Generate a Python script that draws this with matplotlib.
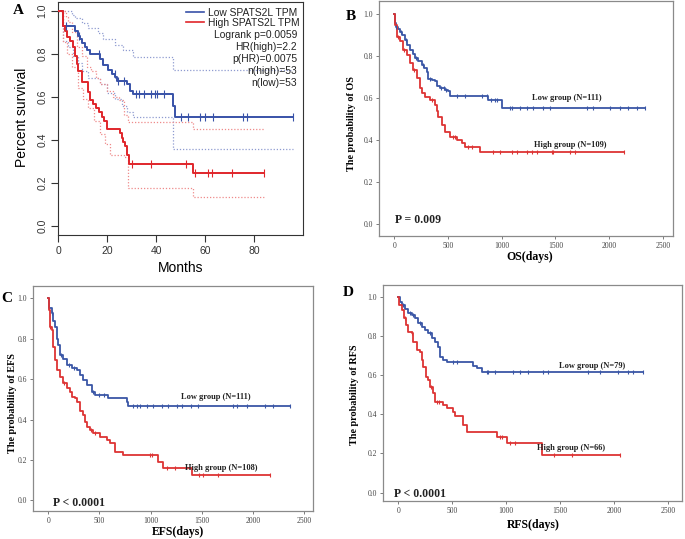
import matplotlib
matplotlib.use('Agg')
import matplotlib.pyplot as plt
import numpy as np

W, H = 685, 539

# ---- Panel A (GEPIA, months) ----
A_low_t = [0, 2, 6.8, 8.2, 8.8, 9.5, 10.9, 11.8, 12.9, 17, 18.4, 20.4, 21.8, 23.1, 23.8, 27.9, 29.2, 30.6, 47, 47.8, 96]
A_low_s = [1.0, 0.93, 0.908, 0.883, 0.868, 0.849, 0.834, 0.818, 0.8, 0.775, 0.748, 0.725, 0.707, 0.691, 0.675, 0.66, 0.63, 0.612, 0.56, 0.508, 0.508]
A_low_c = [3, 8.5, 16.7, 23, 24.6, 27, 31.7, 33, 35, 38, 39.5, 40.2, 43, 50, 53, 58, 60, 63.3, 75.3, 77.3, 96]
A_high_t = [0, 2, 2.7, 3.4, 4.8, 5.9, 6.8, 7.5, 8.2, 9.5, 12, 13, 14, 15.5, 16.5, 17.7, 18.5, 19.7, 25.2, 25.9, 26.5, 27.2, 27.9, 28.8, 55.1, 84]
A_high_s = [1.0, 0.93, 0.905, 0.88, 0.86, 0.83, 0.79, 0.755, 0.72, 0.67, 0.625, 0.585, 0.566, 0.547, 0.528, 0.509, 0.49, 0.453, 0.434, 0.41, 0.39, 0.37, 0.33, 0.29, 0.245, 0.245]
A_high_c = [30, 38, 52, 56, 61, 63, 71, 84]
A_low_hi_t = [0, 5.4, 7, 9.5, 12, 16.3, 18.4, 23, 26.5, 30.6, 47, 96]
A_low_hi_s = [1.0, 0.98, 0.966, 0.943, 0.92, 0.896, 0.87, 0.84, 0.818, 0.784, 0.725, 0.725]
A_low_lo_t = [0, 2, 4, 6, 8, 9.5, 12, 17, 20, 23, 26, 28, 30.6, 47, 96]
A_low_lo_s = [1.0, 0.86, 0.83, 0.79, 0.76, 0.72, 0.69, 0.66, 0.62, 0.59, 0.56, 0.53, 0.505, 0.36, 0.36]
A_high_hi_t = [0, 3, 4, 5.5, 7.5, 9.5, 11.6, 13.5, 15.5, 17, 20, 22.4, 25, 27, 28.5, 55, 84]
A_high_hi_s = [1.0, 0.97, 0.95, 0.9, 0.834, 0.79, 0.74, 0.72, 0.69, 0.66, 0.63, 0.60, 0.585, 0.515, 0.485, 0.45, 0.45]
A_high_lo_t = [0, 2, 3.5, 5.4, 8, 10, 12, 14.5, 17, 19, 21, 27, 28.5, 55, 84]
A_high_lo_s = [1.0, 0.857, 0.8, 0.74, 0.64, 0.59, 0.547, 0.49, 0.43, 0.38, 0.33, 0.32, 0.177, 0.135, 0.135]
A_stats = ['Logrank p=0.0059', 'HR(high)=2.2', 'p(HR)=0.0075', 'n(high)=53', 'n(low)=53']

# ---- Panel B (OS, days) ----
B_low_t = [0, 5, 15, 30, 53, 75, 100, 120, 146, 170, 193, 220, 255, 280, 300, 317, 350, 380, 395, 425, 470, 503, 520, 870, 1000, 2336]
B_low_s = [1.0, 0.96, 0.94, 0.93, 0.917, 0.90, 0.877, 0.855, 0.83, 0.81, 0.79, 0.775, 0.758, 0.745, 0.727, 0.69, 0.685, 0.68, 0.66, 0.647, 0.64, 0.635, 0.612, 0.59, 0.555, 0.555]
B_low_c = [20, 60, 110, 200, 270, 330, 430, 460, 480, 580, 660, 820, 860, 900, 940, 960, 1078, 1093, 1171, 1233, 1295, 1388, 1450, 1792, 1854, 2010, 2103, 2180, 2258, 2336]
B_high_t = [0, 5, 22, 53, 84, 115, 146, 177, 208, 239, 262, 286, 332, 379, 395, 410, 441, 472, 519, 581, 627, 658, 798, 2140]
B_high_s = [1.0, 0.95, 0.893, 0.87, 0.83, 0.806, 0.766, 0.734, 0.695, 0.647, 0.625, 0.607, 0.59, 0.568, 0.54, 0.512, 0.472, 0.44, 0.416, 0.40, 0.385, 0.366, 0.345, 0.345]
B_high_c = [30, 90, 180, 350, 550, 565, 690, 720, 922, 985, 1093, 1140, 1233, 1280, 1326, 1466, 1481, 1637, 1683, 2140]

# ---- Panel C (EFS, days) ----
C_low_t = [0, 5, 33, 49, 65, 82, 98, 114, 147, 179, 228, 277, 310, 342, 375, 424, 456, 587, 766, 782, 2363]
C_low_s = [1.0, 0.95, 0.926, 0.89, 0.86, 0.80, 0.77, 0.72, 0.70, 0.67, 0.653, 0.645, 0.62, 0.596, 0.571, 0.538, 0.52, 0.505, 0.488, 0.467, 0.467]
C_low_c = [40, 120, 200, 250, 440, 500, 540, 831, 864, 897, 962, 1027, 1108, 1174, 1255, 1304, 1392, 1467, 1809, 1842, 1940, 2119, 2200, 2363]
C_high_t = [0, 5, 16, 33, 49, 65, 88, 114, 147, 179, 212, 228, 261, 277, 310, 342, 359, 375, 408, 440, 505, 571, 603, 652, 734, 1076, 1125, 1402, 2168]
C_high_s = [1.0, 0.94, 0.86, 0.843, 0.76, 0.695, 0.645, 0.612, 0.58, 0.554, 0.538, 0.513, 0.505, 0.488, 0.44, 0.422, 0.39, 0.365, 0.348, 0.332, 0.315, 0.30, 0.282, 0.24, 0.224, 0.19, 0.158, 0.125, 0.125]
C_high_c = [20, 150, 420, 460, 994, 1011, 1157, 1239, 1477, 1516, 1663, 2168]

# ---- Panel D (RFS, days) ----
D_low_t = [0, 15, 31, 62, 93, 123, 154, 185, 216, 247, 278, 309, 340, 370, 386, 417, 448, 694, 725, 772, 2268]
D_low_s = [1.0, 0.975, 0.957, 0.94, 0.915, 0.906, 0.89, 0.864, 0.847, 0.83, 0.813, 0.787, 0.77, 0.745, 0.694, 0.677, 0.668, 0.646, 0.634, 0.615, 0.615]
D_low_c = [45, 110, 140, 200, 290, 509, 540, 818, 833, 895, 1065, 1126, 1204, 1342, 1389, 1759, 1867, 2037, 2129, 2176, 2268]
D_high_t = [0, 9, 31, 52, 68, 93, 123, 139, 170, 200, 216, 231, 256, 278, 293, 324, 340, 417, 448, 509, 525, 602, 633, 910, 1003, 1333, 2052]
D_high_s = [1.0, 0.957, 0.932, 0.89, 0.855, 0.82, 0.813, 0.77, 0.728, 0.72, 0.677, 0.643, 0.592, 0.575, 0.54, 0.507, 0.464, 0.447, 0.43, 0.413, 0.39, 0.345, 0.31, 0.286, 0.252, 0.192, 0.192]
D_high_c = [60, 130, 300, 360, 380, 941, 957, 1034, 1080, 1444, 1605, 2052]

days_ticks = [0, 500, 1000, 1500, 2000, 2500]
prob_ticks = [0.0, 0.2, 0.4, 0.6, 0.8, 1.0]

BLUE_A, RED_A = '#3852a8', '#e0262b'
BLUE, RED = '#3a56a6', '#dd3434'
SERIF = 'Liberation Serif'
SANS = 'Liberation Sans'

fig = plt.figure(figsize=(W / 100, H / 100), dpi=100)


def px_axes(left, top, right, bottom):
    return fig.add_axes([left / W, 1 - bottom / H, (right - left) / W, (bottom - top) / H])


def ftext(x, y, s, **kw):
    fig.text(x / W, 1 - y / H, s, **kw)


def km(ax, t, s, cens, color, lw=1.3, ms=4):
    t = np.asarray(t)
    s = np.asarray(s)
    ax.step(t, s, where='post', color=color, lw=lw, zorder=3)
    idx = np.searchsorted(t, cens, side='right') - 1
    ax.plot(cens, s[idx], ls='none', marker='|', color=color, ms=ms, mew=0.8, zorder=4)


# ---------- A ----------
axA = px_axes(58.3, 1.7, 303, 235)
axA.set_xlim(0, 100)
axA.set_ylim(-0.042, 1.043)
for t, s, c in [(A_low_hi_t, A_low_hi_s, '#8f9bd0'), (A_low_lo_t, A_low_lo_s, '#8f9bd0'),
                (A_high_hi_t, A_high_hi_s, '#ef8a8a'), (A_high_lo_t, A_high_lo_s, '#ef8a8a')]:
    axA.step(t, s, where='post', color=c, lw=0.9, ls=(0, (1, 1.5)), zorder=2)
km(axA, A_low_t, A_low_s, A_low_c, BLUE_A, lw=1.4, ms=6)
km(axA, A_high_t, A_high_s, A_high_c, RED_A, lw=1.4, ms=6)
axA.set_xticks([0, 20, 40, 60, 80])
axA.set_yticks(prob_ticks)
axA.set_yticklabels(['0.0', '0.2', '0.4', '0.6', '0.8', '1.0'], rotation=90, va='center')
axA.tick_params(labelsize=7.5, length=5, width=0.8, colors='#333333', pad=3)
for sp in axA.spines.values():
    sp.set_color('#333333')
    sp.set_linewidth(0.8)
axA.set_xlabel('Months', fontsize=10, family=SANS)
axA.set_ylabel('Percent survival', fontsize=10, family=SANS)
axA.xaxis.set_label_coords(0.501, -0.141)
axA.xaxis.label.set_va('center')
axA.yaxis.set_label_coords(-0.148, 0.506)
axA.yaxis.label.set_va('center')
for lab in axA.get_xticklabels() + axA.get_yticklabels():
    lab.set_family(SANS)

# legend and stats for A
axA.plot([0.523, 0.597], [0.955, 0.955], color=BLUE_A, lw=1.2, transform=axA.transAxes)
axA.plot([0.523, 0.597], [0.912, 0.912], color=RED_A, lw=1.2, transform=axA.transAxes)
ftext(208, 13, 'Low SPATS2L TPM', fontsize=7.4, family=SANS, va='center', color='#222222')
ftext(208, 23, 'High SPATS2L TPM', fontsize=7.4, family=SANS, va='center', color='#222222')
for i, s in enumerate(A_stats):
    ftext(297, 35 + 12 * i, s, fontsize=7.4, family=SANS, va='center', ha='right', color='#222222')


# ---------- B, C, D ----------
def spss_panel(box, xlim, ylim, low, high, low_lab, high_lab, ylab, xlab, ptxt, ylpos, xlpos):
    ax = px_axes(*box)
    ax.set_xlim(*xlim)
    ax.set_ylim(*ylim)
    km(ax, *low, BLUE, lw=1.3, ms=3.5)
    km(ax, *high, RED, lw=1.3, ms=3.5)
    ax.set_xticks(days_ticks)
    ax.set_yticks(prob_ticks)
    ax.set_yticklabels(['0.0', '0.2', '0.4', '0.6', '0.8', '1.0'])
    ax.tick_params(labelsize=5.5, length=2.5, width=0.6, colors='#666666', pad=2)
    for lab in ax.get_xticklabels() + ax.get_yticklabels():
        lab.set_family(SERIF)
        lab.set_color('#444444')
    for sp in ax.spines.values():
        sp.set_color('#8a8a8a')
        sp.set_linewidth(0.9)
    ax.set_ylabel(ylab, fontsize=7.3, family=SERIF, fontweight='bold')
    ax.set_xlabel(xlab, fontsize=8.5, family=SERIF, fontweight='bold')
    ax.yaxis.set_label_coords(*ylpos)
    ax.yaxis.label.set_va('center')
    ax.xaxis.set_label_coords(*xlpos)
    ax.xaxis.label.set_va('center')
    for (x, y, txt) in [low_lab, high_lab]:
        ax.text(x, y, txt, fontsize=6, family=SERIF, fontweight='bold', color='#222222',
                ha='center', va='center')
    ax.text(ptxt[0], ptxt[1], ptxt[2], fontsize=8.5, family=SERIF, fontweight='bold',
            color='#222222', ha='left', va='center')
    return ax


spss_panel((379.3, 1, 673.3, 236), (-140, 2598), (-0.057, 1.063),
           (B_low_t, B_low_s, B_low_c), (B_high_t, B_high_s, B_high_c),
           (1610, 0.601, 'Low group (N=111)'), (1640, 0.378, 'High group (N=109)'),
           'The probability of OS', 'OS(days)', (5, 0.018, 'P = 0.009'),
           (-0.093, 0.48), (0.512, -0.089))

spss_panel((33.3, 286, 313.3, 511), (-147, 2591), (-0.053, 1.061),
           (C_low_t, C_low_s, C_low_c), (C_high_t, C_high_s, C_high_c),
           (1640, 0.512, 'Low group (N=111)'), (1690, 0.16, 'High group (N=108)'),
           'The probability of EFS', 'EFS(days)', (50, -0.012, 'P < 0.0001'),
           (-0.0725, 0.48), (0.517, -0.093))

spss_panel((383.3, 285, 681.7, 500.7), (-139, 2624), (-0.041, 1.06),
           (D_low_t, D_low_s, D_low_c), (D_high_t, D_high_s, D_high_c),
           (1790, 0.648, 'Low group (N=79)'), (1600, 0.23, 'High group (N=66)'),
           'The probability of RFS', 'RFS(days)', (-40, -0.005, 'P < 0.0001'),
           (-0.095, 0.49), (0.502, -0.113))

# panel letters
for x, y, s in [(18, 10, 'A'), (351, 17, 'B'), (7, 298, 'C'), (348, 293, 'D')]:
    ftext(x, y, s, fontsize=11, family=SERIF, fontweight='bold', ha='center', va='center')

fig.savefig('out.png', dpi=100)
